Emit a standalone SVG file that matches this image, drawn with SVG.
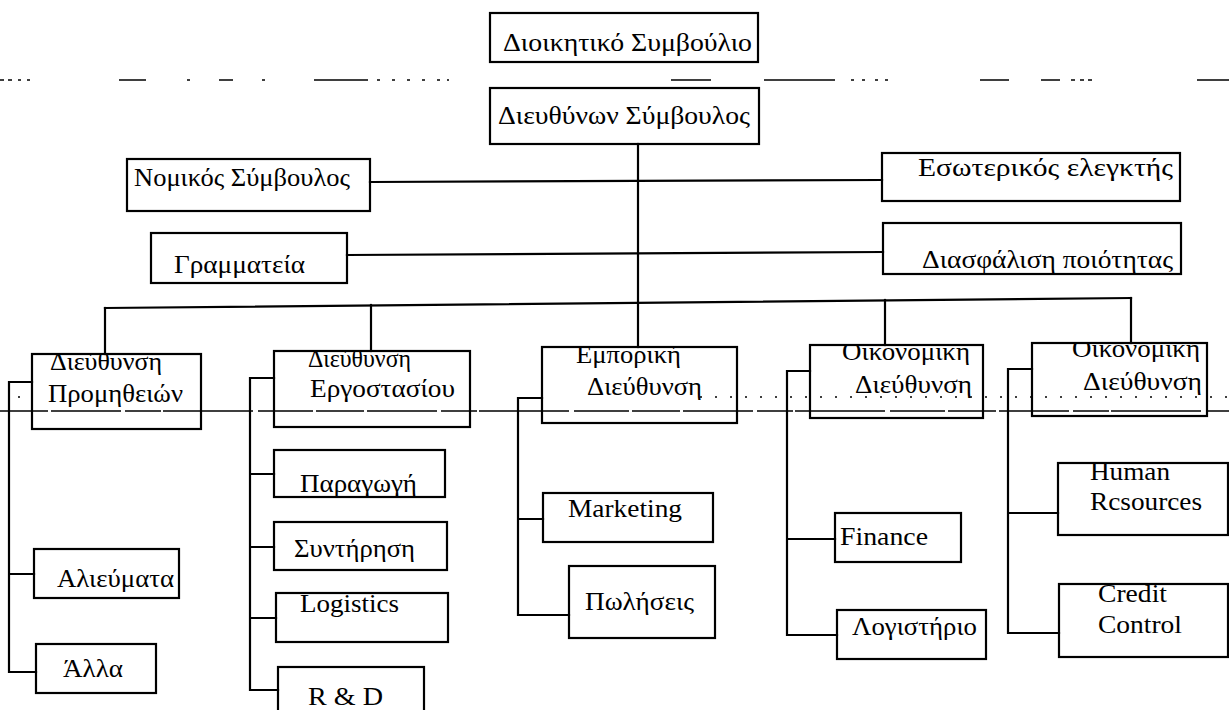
<svg xmlns="http://www.w3.org/2000/svg" width="1229" height="710" viewBox="0 0 1229 710">
  <style>
    .box { fill: none; stroke: #000; stroke-width: 2.2; }
    .ln { fill: none; stroke: #000; stroke-width: 2.2; stroke-linecap: square; }
    .rule { fill: none; stroke: #000; stroke-width: 1.4; }
    .dots { fill: none; stroke: #000; stroke-width: 1.4; stroke-dasharray: 2 13; }
  </style>
  <defs>
    <clipPath id="cpProm"><rect x="32" y="354" width="169" height="75"/></clipPath>
    <clipPath id="cpErg"><rect x="274" y="351" width="196" height="76"/></clipPath>
    <clipPath id="cpEmp"><rect x="542" y="347" width="195" height="76"/></clipPath>
    <clipPath id="cpOik1"><rect x="810" y="345" width="173" height="73"/></clipPath>
    <clipPath id="cpOik2"><rect x="1032" y="343" width="175" height="73"/></clipPath>
    <clipPath id="cpHr"><rect x="1058" y="463" width="170" height="72"/></clipPath>
  </defs>
  <rect width="1229" height="710" fill="#fff"/>

  <!-- faint broken rule near the top of the sheet -->
  <g id="top-rule" stroke="#000" stroke-width="1.4">
    <path d="M0 80h4M8 80h4M18 80h3M27 80h3M119 80h27M187 80h3M219 80h14M262 80h3M314 80h54M377 80h3M392 80h3M407 80h3M422 80h3M437 80h3M447 80h2"/>
    <path d="M671 80h40M764 80h71M851 80h3M862 80h3M875 80h3M885 80h3M980 80h29M1041 80h19M1071 80h4M1080 80h4M1088 80h4M1197 80h32"/>
  </g>

  <!-- connectors -->
  <g id="connectors">
    <!-- main spine -->
    <path class="ln" d="M638 144V347"/>
    <!-- staff positions -->
    <path class="ln" d="M370 182L882 180"/>
    <path class="ln" d="M347 255L883 252"/>
    <!-- department bus -->
    <path class="ln" d="M105 308L1131 298"/>
    <path class="ln" d="M105 308V354"/>
    <path class="ln" d="M371 305V351"/>
    <path class="ln" d="M885 300V345"/>
    <path class="ln" d="M1131 298V343"/>
    <!-- Προμηθειών -->
    <path class="ln" d="M32 382H9V672H36M9 574H34"/>
    <!-- Εργοστασίου -->
    <path class="ln" d="M274 378H250V690H278M250 474H274M250 547H274M250 618H276"/>
    <!-- Εμπορική -->
    <path class="ln" d="M542 398H518V615H569M518 519H543"/>
    <!-- Οικονομική 1 -->
    <path class="ln" d="M810 371H787V635H837M787 539H835"/>
    <!-- Οικονομική 2 -->
    <path class="ln" d="M1032 369H1008V633H1059M1008 513H1058"/>
  </g>

  <g font-family="Liberation Serif" font-size="25" fill="#000">
  <g id="n-board">
    <rect class="box" x="490" y="13" width="268" height="49"/>
    <text x="503" y="51" textLength="249" lengthAdjust="spacingAndGlyphs">Διοικητικό Συμβούλιο</text>
  </g>
  <g id="n-ceo">
    <rect class="box" x="490" y="88" width="269" height="56"/>
    <text x="498" y="124" textLength="252" lengthAdjust="spacingAndGlyphs">Διευθύνων Σύμβουλος</text>
  </g>
  <g id="n-legal">
    <rect class="box" x="127" y="159" width="243" height="52"/>
    <text x="134" y="186" textLength="216" lengthAdjust="spacingAndGlyphs">Νομικός Σύμβουλος</text>
  </g>
  <g id="n-audit">
    <rect class="box" x="882" y="153" width="298" height="48"/>
    <text x="918" y="176" textLength="255" lengthAdjust="spacingAndGlyphs">Εσωτερικός ελεγκτής</text>
  </g>
  <g id="n-secretariat">
    <rect class="box" x="151" y="233" width="196" height="50"/>
    <text x="174" y="273" textLength="131" lengthAdjust="spacingAndGlyphs">Γραμματεία</text>
  </g>
  <g id="n-quality">
    <rect class="box" x="883" y="223" width="298" height="51"/>
    <text x="922" y="268" textLength="251" lengthAdjust="spacingAndGlyphs">Διασφάλιση ποιότητας</text>
  </g>

  <g id="n-procurement">
    <rect class="box" x="32" y="354" width="169" height="75"/>
    <text x="50" y="370" textLength="112" lengthAdjust="spacingAndGlyphs" clip-path="url(#cpProm)">Διεύθυνση</text>
    <text x="48" y="402" textLength="135" lengthAdjust="spacingAndGlyphs">Προμηθειών</text>
  </g>
  <g id="n-factory">
    <rect class="box" x="274" y="351" width="196" height="76"/>
    <text x="308" y="367" textLength="103" lengthAdjust="spacingAndGlyphs" clip-path="url(#cpErg)">Διεύθυνση</text>
    <text x="310" y="397" textLength="145" lengthAdjust="spacingAndGlyphs">Εργοστασίου</text>
  </g>
  <g id="n-commercial">
    <rect class="box" x="542" y="347" width="195" height="76"/>
    <text x="576" y="363" textLength="105" lengthAdjust="spacingAndGlyphs" clip-path="url(#cpEmp)">Εμπορική</text>
    <text x="587" y="395" textLength="115" lengthAdjust="spacingAndGlyphs">Διεύθυνση</text>
  </g>
  <g id="n-finance-1">
    <rect class="box" x="810" y="345" width="173" height="73"/>
    <text x="842" y="360" textLength="128" lengthAdjust="spacingAndGlyphs" clip-path="url(#cpOik1)">Οικονομική</text>
    <text x="855" y="393" textLength="117" lengthAdjust="spacingAndGlyphs">Διεύθυνση</text>
  </g>
  <g id="n-finance-2">
    <rect class="box" x="1032" y="343" width="175" height="73"/>
    <text x="1072" y="357" textLength="128" lengthAdjust="spacingAndGlyphs" clip-path="url(#cpOik2)">Οικονομική</text>
    <text x="1083" y="390" textLength="119" lengthAdjust="spacingAndGlyphs">Διεύθυνση</text>
  </g>

  <g id="n-fish">
    <rect class="box" x="34" y="549" width="145" height="49"/>
    <text x="57" y="587" textLength="117" lengthAdjust="spacingAndGlyphs">Αλιεύματα</text>
  </g>
  <g id="n-other">
    <rect class="box" x="36" y="644" width="120" height="49"/>
    <text x="63" y="677" textLength="60" lengthAdjust="spacingAndGlyphs">Άλλα</text>
  </g>

  <g id="n-production">
    <rect class="box" x="274" y="450" width="171" height="47"/>
    <text x="300" y="492" textLength="117" lengthAdjust="spacingAndGlyphs">Παραγωγή</text>
  </g>
  <g id="n-maintenance">
    <rect class="box" x="274" y="522" width="173" height="48"/>
    <text x="294" y="557" textLength="121" lengthAdjust="spacingAndGlyphs">Συντήρηση</text>
  </g>
  <g id="n-logistics">
    <rect class="box" x="276" y="593" width="172" height="49"/>
    <text x="300" y="612" textLength="99" lengthAdjust="spacingAndGlyphs">Logistics</text>
  </g>
  <g id="n-rnd">
    <rect class="box" x="278" y="667" width="146" height="60"/>
    <text x="308" y="705" textLength="75" lengthAdjust="spacingAndGlyphs">R &amp; D</text>
  </g>

  <g id="n-marketing">
    <rect class="box" x="543" y="493" width="170" height="49"/>
    <text x="568" y="517" textLength="114" lengthAdjust="spacingAndGlyphs">Marketing</text>
  </g>
  <g id="n-sales">
    <rect class="box" x="569" y="566" width="146" height="72"/>
    <text x="585" y="610" textLength="109" lengthAdjust="spacingAndGlyphs">Πωλήσεις</text>
  </g>

  <g id="n-finance">
    <rect class="box" x="835" y="513" width="126" height="49"/>
    <text x="840" y="545" textLength="88" lengthAdjust="spacingAndGlyphs">Finance</text>
  </g>
  <g id="n-accounting">
    <rect class="box" x="837" y="610" width="149" height="49"/>
    <text x="852" y="635" textLength="125" lengthAdjust="spacingAndGlyphs">Λογιστήριο</text>
  </g>

  <g id="n-hr">
    <rect class="box" x="1058" y="463" width="170" height="72"/>
    <text x="1090" y="480" textLength="80" lengthAdjust="spacingAndGlyphs" clip-path="url(#cpHr)">Human</text>
    <text x="1090" y="510" textLength="112" lengthAdjust="spacingAndGlyphs">Rcsources</text>
  </g>
  <g id="n-credit">
    <rect class="box" x="1059" y="584" width="169" height="73"/>
    <text x="1098" y="602" textLength="69" lengthAdjust="spacingAndGlyphs">Credit</text>
    <text x="1098" y="633" textLength="84" lengthAdjust="spacingAndGlyphs">Control</text>
  </g>
  </g>

  <!-- page rule running across the department row -->
  <g id="page-rule">
    <path class="rule" d="M0 411H1229" stroke-dasharray="48 3 70 4 36 2 90 5 55 3"/>
    <path class="dots" d="M18 397H30M700 397H1229"/>
  </g>
</svg>
